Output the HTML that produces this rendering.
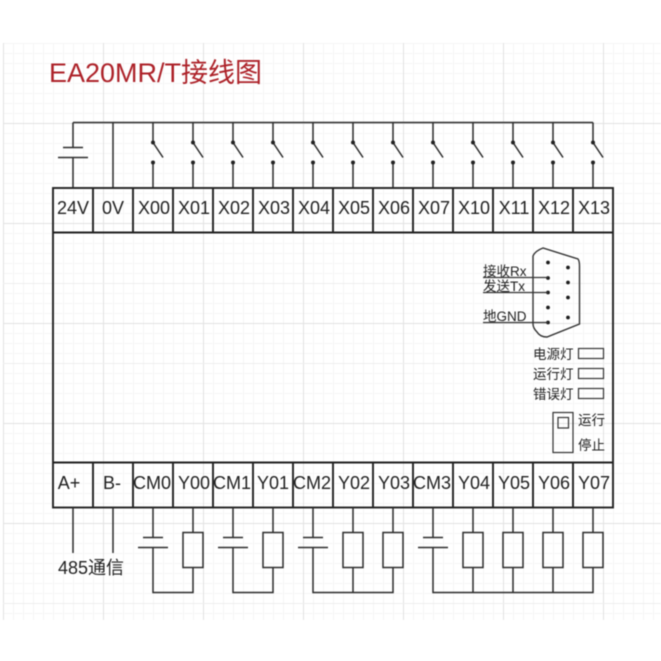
<!DOCTYPE html>
<html><head><meta charset="utf-8"><style>
html,body{margin:0;padding:0;background:#fff}
svg{display:block;filter:blur(0.4px)}
text{font-family:"Liberation Sans","Noto Sans CJK SC",sans-serif;fill:#222}
.t{font-size:18px;text-anchor:middle}
.s{font-size:13.500px}
.l{fill:none;stroke:#2c2c2c;stroke-width:1.500}
.b{fill:none;stroke:#222;stroke-width:1.900}
</style></head><body>
<svg xmlns="http://www.w3.org/2000/svg" width="661" height="661" viewBox="0 0 661 661">
<defs>
<pattern id="g" x="3" y="3" width="10" height="10" patternUnits="userSpaceOnUse"><path d="M0.500 0V10M0 0.500H10" fill="none" stroke="#f6f6f6" stroke-width="1"/></pattern>
<pattern id="h" x="3" y="23" width="100" height="100" patternUnits="userSpaceOnUse"><path d="M0.500 0V100M0 0.500H100" fill="none" stroke="#e2e2e2" stroke-width="1"/></pattern>
</defs>
<rect x="3" y="43" width="658" height="577" fill="url(#g)"/>
<rect x="3" y="43" width="658" height="577" fill="url(#h)"/>
<path d="M3 283.500H661M3 363.500H661M3 603.500H661" stroke="#eeeeee" fill="none"/>

<text x="49" y="82" style="font-size:27px;fill:#ad2229">EA20MR/T接线图</text>

<!-- top wiring -->
<path class="l" d="M73 122.500H593M73 122.500V147M73 157.500V188M113 122.500V188M63 147.500H83M58 157.500H88"/>
<g id="sw">
<path class="l" d="M153 122.500V142.500L163 157.500M153 162.500V188"/><circle cx="153" cy="142.500" r="2" fill="#222"/><circle cx="153" cy="162.500" r="2" fill="#222"/>
</g>
<use href="#sw" x="40"/><use href="#sw" x="80"/><use href="#sw" x="120"/><use href="#sw" x="160"/><use href="#sw" x="200"/><use href="#sw" x="240"/><use href="#sw" x="280"/><use href="#sw" x="320"/><use href="#sw" x="360"/><use href="#sw" x="400"/><use href="#sw" x="440"/>

<!-- body -->
<rect class="b" x="53" y="188" width="560" height="319.500"/>
<path class="b" d="M53 232.500H613M53 462.500H613"/>
<path class="b" d="M93 188V232.500M133 188V232.500M173 188V232.500M213 188V232.500M253 188V232.500M293 188V232.500M333 188V232.500M373 188V232.500M413 188V232.500M453 188V232.500M493 188V232.500M533 188V232.500M573 188V232.500"/>
<path class="b" d="M93 462.500V507.500M133 462.500V507.500M173 462.500V507.500M213 462.500V507.500M253 462.500V507.500M293 462.500V507.500M333 462.500V507.500M373 462.500V507.500M413 462.500V507.500M453 462.500V507.500M493 462.500V507.500M533 462.500V507.500M573 462.500V507.500"/>

<text class="t" x="73" y="214">24V</text><text class="t" x="113" y="214">0V</text><text class="t" x="154" y="214">X00</text><text class="t" x="194" y="214">X01</text><text class="t" x="234" y="214">X02</text><text class="t" x="274" y="214">X03</text><text class="t" x="314" y="214">X04</text><text class="t" x="354" y="214">X05</text><text class="t" x="394" y="214">X06</text><text class="t" x="434" y="214">X07</text><text class="t" x="474" y="214">X10</text><text class="t" x="514" y="214">X11</text><text class="t" x="554" y="214">X12</text><text class="t" x="594" y="214">X13</text>
<text class="t" x="69" y="489">A+</text><text class="t" x="112" y="489">B-</text><text class="t" x="152" y="489">CM0</text><text class="t" x="194" y="489">Y00</text><text class="t" x="232" y="489">CM1</text><text class="t" x="273" y="489">Y01</text><text class="t" x="312" y="489">CM2</text><text class="t" x="354" y="489">Y02</text><text class="t" x="394" y="489">Y03</text><text class="t" x="432" y="489">CM3</text><text class="t" x="474" y="489">Y04</text><text class="t" x="514" y="489">Y05</text><text class="t" x="554" y="489">Y06</text><text class="t" x="594" y="489">Y07</text>

<!-- bottom wiring -->
<path class="l" d="M73 507.500V553M113 507.500V553"/>
<text x="58" y="574" style="font-size:18px">485通信</text>
<path class="l" d="M153 507.500V537.500M143 537.500H163M138 547.500H168M153 547.500V592.500H193V567.500M193 507.500V532.500"/>
<rect class="l" x="183" y="532.500" width="20" height="35"/>
<path class="l" d="M233 507.500V537.500M223 537.500H243M218 547.500H248M233 547.500V592.500H273V567.500M273 507.500V532.500"/>
<rect class="l" x="263" y="532.500" width="20" height="35"/>
<path class="l" d="M313 507.500V537.500M303 537.500H323M298 547.500H328M313 547.500V592.500H393V567.500M353 567.500V592.500M353 507.500V532.500M393 507.500V532.500"/>
<rect class="l" x="343" y="532.500" width="20" height="35"/>
<rect class="l" x="383" y="532.500" width="20" height="35"/>
<path class="l" d="M433 507.500V537.500M423 537.500H443M418 547.500H448M433 547.500V592.500H593V567.500M473 567.500V592.500M513 567.500V592.500M553 567.500V592.500M473 507.500V532.500M513 507.500V532.500M553 507.500V532.500M593 507.500V532.500"/>
<rect class="l" x="463" y="532.500" width="20" height="35"/>
<rect class="l" x="503" y="532.500" width="20" height="35"/>
<rect class="l" x="543" y="532.500" width="20" height="35"/>
<rect class="l" x="583" y="532.500" width="20" height="35"/>

<!-- DB9 -->
<path d="M533 256Q535 251 543 248L578 259Q579.500 261 579.500 266V324L547 337Q540 337 537 332Q533 328 533 324Z" fill="none" stroke="#333" stroke-width="1.400"/>
<g fill="#1c1c1c">
<circle cx="548" cy="262.500" r="1.900"/><circle cx="548" cy="278" r="1.900"/><circle cx="548" cy="292.500" r="1.900"/><circle cx="548" cy="307.500" r="1.900"/><circle cx="548" cy="322.500" r="1.900"/>
<circle cx="568" cy="267.500" r="1.900"/><circle cx="568" cy="282.500" r="1.900"/><circle cx="568" cy="297.500" r="1.900"/><circle cx="568" cy="317.500" r="1.900"/>
</g>
<path d="M483 277.500H548M483 292.500H548M483 322.500H548" fill="none" stroke="#333" stroke-width="1.200"/>
<text class="s" x="483" y="276">接收Rx</text>
<text class="s" x="483" y="291">发送Tx</text>
<text class="s" x="483" y="321">地GND</text>

<!-- LEDs -->
<text class="s" x="533" y="359">电源灯</text>
<text class="s" x="533" y="379">运行灯</text>
<text class="s" x="533" y="399">错误灯</text>
<rect x="578.500" y="348.500" width="25" height="10" fill="none" stroke="#333" stroke-width="1.200"/>
<rect x="578.500" y="368.500" width="25" height="10" fill="none" stroke="#333" stroke-width="1.200"/>
<rect x="578.500" y="388.500" width="25" height="10" fill="none" stroke="#333" stroke-width="1.200"/>

<!-- run/stop switch -->
<rect x="553" y="412.500" width="20" height="40" fill="none" stroke="#333" stroke-width="1.200"/>
<rect x="558" y="417.500" width="10.500" height="10.500" fill="none" stroke="#333" stroke-width="1.200"/>
<text class="s" x="578" y="425">运行</text>
<text class="s" x="578" y="450">停止</text>
</svg>
</body></html>
